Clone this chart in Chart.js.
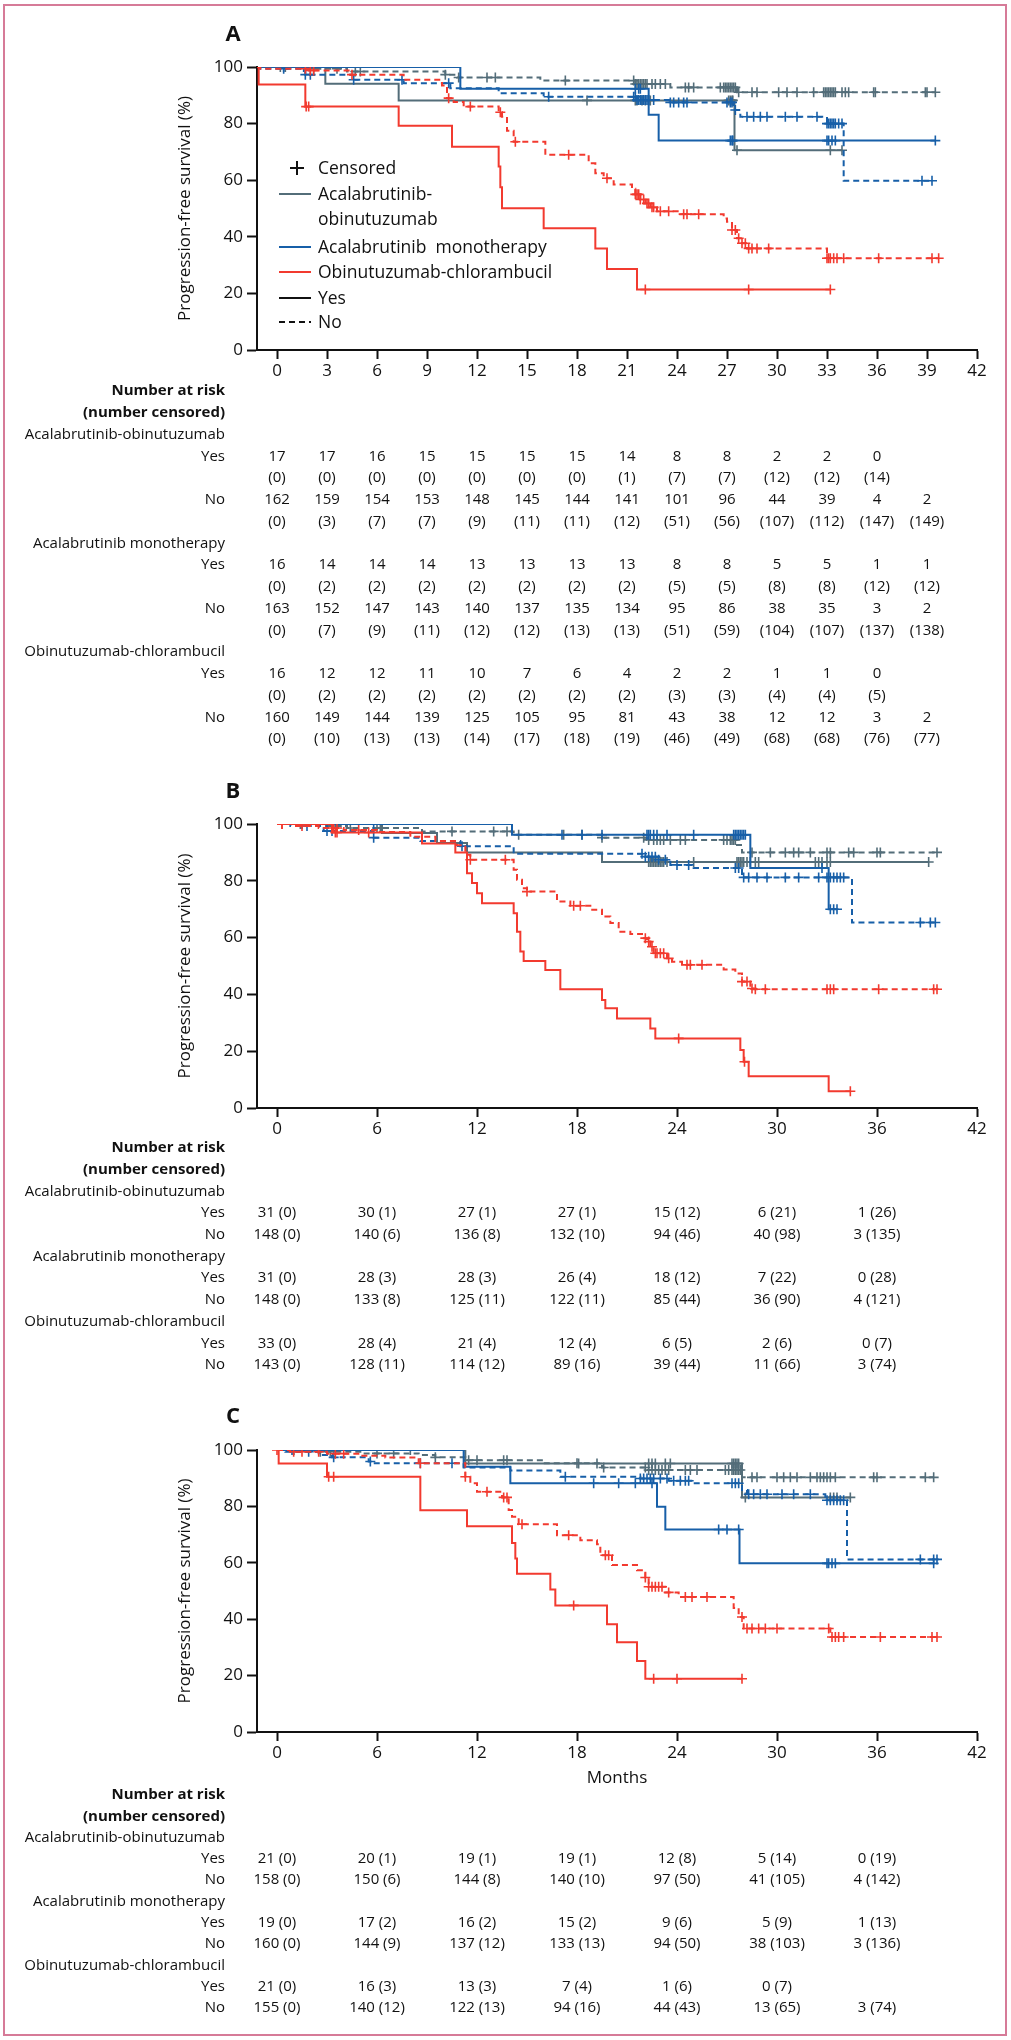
<!DOCTYPE html>
<html lang="en">
<head>
<meta charset="UTF-8">
<title>Progression-free survival by subgroup</title>
<script src="https://cdn.jsdelivr.net/npm/chart.js@4.4.1/dist/chart.umd.min.js"></script>
<style>
  html, body { margin: 0; padding: 0; background: #fff; }
  #page { position: relative; width: 1011px; height: 2040px; }
  #frame { position: absolute; left: 3px; top: 4px; width: 1004px; height: 2032px; border: 2px solid #d67b98; box-sizing: border-box; }
  canvas { position: absolute; left: 0; }
</style>
</head>
<body>
<div id="page">
  <div id="frame"></div>
  <canvas id="chartA" width="1011" height="770" style="top:0px"></canvas>
  <canvas id="chartB" width="1011" height="610" style="top:770px"></canvas>
  <canvas id="chartC" width="1011" height="660" style="top:1380px"></canvas>
</div>

<script>
  // ---- axes ----
  const yTicks = [0, 20, 40, 60, 80, 100];
  const xTicksA = [0, 3, 6, 9, 12, 15, 18, 21, 24, 27, 30, 33, 36, 39, 42];
  const xTicksBC = [0, 6, 12, 18, 24, 30, 36, 42];
  const riskTimesA = [0, 3, 6, 9, 12, 15, 18, 21, 24, 27, 30, 33, 36, 39];
  const riskTimesBC = [0, 6, 12, 18, 24, 30, 36];

  // ---- panel A curves: events [month, PFS %] and censor times ----
  const A_AO_yes = [[2.9, 94.1], [7.3, 88.2], [27.45, 70.6]];
  const A_AO_yes_cens = [18.6, 21.5, 21.6, 21.9, 22.1, 22.3, 22.4, 27.1, 27.2, 27.3, 27.35, 27.6, 33.2, 33.9];
  const A_AO_no = [[1.5, 99.4], [4.2, 98.4], [10.1, 97.3], [10.8, 96.3], [15.8, 95.2], [21.5, 94.0], [23.6, 92.8], [27.6, 91.1]];
  const A_AO_no_cens = [0.2, 0.5, 2.2, 3.6, 4.7, 5.0, 10.1, 10.9, 12.6, 13.1, 17.3, 21.4, 21.5, 21.6, 21.7, 21.8, 21.9, 22.0, 22.1, 22.2, 22.5, 22.7, 23.0, 23.3,
    24.5, 24.7, 25.0, 26.6, 26.8, 26.9, 27.0, 27.1, 27.2, 27.3, 27.4, 27.5, 27.7, 28.5, 28.8, 30.1, 30.6, 31.2, 32.2,
    32.8, 32.9, 33.0, 33.1, 33.2, 33.3, 33.4, 33.5, 33.9, 34.1, 34.3, 35.8, 35.9, 38.9, 39.0, 39.5];
  const A_AM_yes = [[11.0, 92.3], [22.3, 83.1], [22.9, 74.0]];
  const A_AM_yes_cens = [0.4, 1.6, 21.5, 21.7, 21.8, 27.2, 27.3, 27.35, 33.0, 33.1, 33.3, 33.5, 39.5];
  const A_AM_no = [[-1.0, 99.4], [1.7, 97.3], [4.6, 95.5], [7.6, 94.3], [10.4, 92.5], [13.3, 90.7], [16.0, 89.5], [21.6, 88.3], [23.6, 87.5], [27.4, 84.8], [27.8, 82.4], [33.0, 80.0], [34.0, 59.8]];
  const A_AM_no_cens = [0.4, 1.7, 2.0, 4.6, 7.5, 10.3, 16.3, 21.4, 21.5, 21.6, 21.7, 21.8, 21.9, 22.0, 22.1, 22.2, 22.3, 22.6, 23.6, 23.8, 24.1, 24.4, 24.6,
    27.0, 27.2, 27.3, 27.5, 28.2, 28.6, 29.0, 29.4, 30.5, 31.2, 32.4, 33.0, 33.1, 33.2, 33.3, 33.4, 33.5, 33.7, 33.9, 38.7, 39.3];
  const A_OC_yes = [[-1.1, 93.8], [1.7, 86.0], [7.3, 79.2], [10.5, 71.8], [13.3, 64.8], [13.4, 57.5], [13.5, 50.1], [16.0, 43.0], [19.1, 35.9], [19.8, 28.6], [21.6, 21.4]];
  const A_OC_yes_cens = [1.75, 1.9, 22.1, 28.3, 33.2];
  const A_OC_no = [[-1.0, 99.4], [1.9, 98.8], [4.4, 97.3], [7.6, 95.5], [9.9, 93.5], [10.2, 89.0], [10.6, 87.6], [11.2, 86.0], [13.3, 84.0], [13.5, 82.4], [13.8, 77.5], [14.2, 73.6],
    [16.1, 69.0], [18.7, 66.0], [19.1, 62.5], [19.6, 60.7], [20.2, 58.5], [21.3, 57.0], [21.5, 55.0], [21.8, 53.2], [22.1, 51.8], [22.4, 50.4], [22.8, 49.0],
    [24.2, 48.0], [26.8, 46.5], [27.0, 45.3], [27.3, 42.4], [27.6, 39.5], [27.9, 37.7], [28.2, 35.9], [33.0, 32.4]];
  const A_OC_no_cens = [1.7, 2.0, 2.2, 4.5, 10.3, 11.6, 13.4, 14.3, 17.5, 19.8, 21.5, 21.6, 21.7, 21.8, 22.0, 22.2, 22.3, 22.5, 22.6, 23.0, 23.5, 24.4, 24.6, 25.3,
    27.3, 27.5, 27.7, 27.9, 28.1, 28.3, 28.5, 28.8, 29.5, 33.0, 33.1, 33.2, 33.4, 33.6, 34.0, 36.1, 39.3, 39.7];

  // ---- panel B curves ----
  const B_AO_yes = [[6.3, 96.8], [9.6, 93.3], [11.4, 90.0], [19.5, 86.6]];
  const B_AO_yes_cens = [3.6, 22.3, 22.4, 22.5, 22.6, 22.7, 22.8, 22.9, 23.0, 23.1, 23.2, 23.4, 25.0, 27.6, 27.7, 27.8, 27.9, 28.0, 28.2, 28.4, 28.7, 28.9,
    32.3, 32.5, 32.7, 33.0, 33.2, 39.1];
  const B_AO_no = [[1.5, 99.3], [4.2, 98.6], [8.7, 97.4], [14.2, 96.2], [19.5, 95.2], [22.2, 94.4], [27.6, 92.6], [27.9, 90.0]];
  const B_AO_no_cens = [1.4, 3.6, 4.4, 6.0, 6.2, 10.5, 13.0, 13.8, 14.5, 17.2, 18.3, 19.5, 22.0, 22.3, 22.6, 22.8, 23.0, 23.2, 23.6, 24.2, 24.5,
    26.8, 27.0, 27.2, 27.3, 27.4, 27.5, 28.5, 29.6, 30.5, 31.0, 31.3, 32.0, 33.0, 33.2, 34.3, 34.6, 36.0, 36.2, 39.6];
  const B_AM_yes = [[14.1, 96.2], [28.4, 84.5], [33.1, 70.0]];
  const B_AM_yes_cens = [1.5, 3.0, 5.8, 17.1, 18.3, 19.5, 22.2, 22.3, 22.4, 22.6, 22.8, 23.4, 25.0, 27.4, 27.5, 27.6, 27.7, 27.8, 27.9, 28.0, 28.1,
    32.7, 33.2, 33.4, 33.6];
  const B_AM_no = [[0.8, 99.3], [2.8, 97.5], [5.8, 95.2], [8.6, 94.0], [11.0, 92.2], [14.2, 89.5], [22.0, 88.5], [22.9, 87.4], [23.6, 85.6], [25.0, 84.5], [27.9, 81.2], [34.5, 65.3]];
  const B_AM_no_cens = [1.8, 3.0, 3.3, 5.8, 11.1, 21.9, 22.1, 22.3, 22.5, 22.7, 22.9, 23.3, 24.0, 24.7, 27.5, 27.7, 28.0, 28.3, 28.8, 29.4, 30.5, 31.3,
    32.5, 33.0, 33.2, 33.4, 33.6, 33.8, 34.0, 38.6, 39.2, 39.5];
  const B_OC_yes = [[3.3, 97.0], [8.7, 93.1], [10.7, 90.0], [11.4, 82.7], [11.7, 79.2], [12.0, 75.6], [12.3, 72.1], [14.2, 68.6], [14.4, 62.1], [14.6, 55.1], [14.8, 51.8],
    [16.1, 48.6], [17.0, 41.8], [19.5, 38.0], [19.7, 35.1], [20.4, 31.5], [22.4, 28.0], [22.7, 24.5], [27.8, 20.4], [28.0, 16.3], [28.3, 11.2], [33.1, 5.9]];
  const B_OC_yes_cens = [0.3, 3.5, 3.6, 5.5, 24.1, 28.05, 34.4];
  const B_OC_no = [[1.0, 99.3], [2.5, 98.6], [4.0, 97.9], [6.0, 97.2], [8.0, 95.5], [9.5, 94.0], [10.8, 92.5], [11.3, 89.2], [11.6, 87.4], [14.2, 83.9], [14.4, 80.4],
    [14.7, 77.4], [15.0, 76.2], [16.8, 72.7], [17.6, 71.2], [18.8, 69.8], [19.5, 67.4], [20.0, 65.1], [20.5, 62.1], [21.2, 61.3], [21.9, 59.8], [22.2, 58.6],
    [22.4, 56.8], [22.6, 54.5], [23.4, 52.7], [23.7, 51.5], [24.3, 50.4], [26.8, 48.8], [27.5, 47.4], [27.9, 44.5], [28.4, 42.1], [28.6, 41.8]];
  const B_OC_no_cens = [0.3, 1.5, 3.4, 3.6, 4.9, 11.6, 13.7, 15.0, 17.8, 18.2, 22.1, 22.3, 22.5, 22.7, 22.8, 23.0, 23.2, 23.5, 24.6, 24.8, 25.5,
    27.9, 28.2, 28.5, 28.7, 29.3, 33.0, 33.2, 33.4, 36.1, 39.4, 39.6];

  // ---- panel C curves ----
  const C_AO_yes = [[11.3, 95.2], [27.9, 83.2]];
  const C_AO_yes_cens = [1.0, 8.0, 18.1, 19.2, 22.3, 22.5, 22.7, 23.3, 23.6, 27.3, 27.4, 27.5, 27.6, 27.7, 28.1, 33.2, 33.4, 33.6, 34.4];
  const C_AO_no = [[2.0, 99.4], [5.0, 98.8], [8.5, 98.2], [9.5, 97.4], [11.3, 96.4], [16.0, 95.3], [19.5, 93.8], [22.2, 92.9], [27.9, 90.3]];
  const C_AO_no_cens = [1.0, 2.6, 3.2, 6.0, 7.0, 9.5, 11.5, 12.0, 13.6, 13.8, 18.0, 19.6, 22.1, 22.3, 22.5, 22.7, 22.9, 23.1, 23.3, 23.5, 24.5, 24.8, 25.2,
    26.9, 27.1, 27.3, 27.4, 27.5, 27.6, 27.7, 27.8, 28.5, 28.8, 30.0, 30.4, 30.8, 31.2, 32.0, 32.4, 32.6, 32.8, 33.0, 33.2, 33.5, 35.8, 36.0, 38.9, 39.4];
  const C_AM_yes = [[11.2, 94.1], [14.0, 88.2], [22.8, 79.9], [23.3, 71.8], [27.75, 59.8]];
  const C_AM_yes_cens = [0.9, 3.0, 19.0, 20.5, 21.5, 22.5, 26.5, 27.0, 27.7, 33.0, 33.1, 33.3, 33.5, 39.4];
  const C_AM_no = [[0.5, 99.4], [2.5, 98.2], [3.3, 97.4], [5.5, 95.9], [5.8, 95.3], [11.2, 93.8], [14.0, 92.7], [17.0, 90.5], [21.8, 89.9], [23.5, 89.1], [25.0, 88.2],
    [27.9, 85.8], [28.2, 84.3], [32.9, 82.2], [34.2, 61.2]];
  const C_AM_no_cens = [1.9, 3.4, 5.6, 8.6, 10.5, 17.3, 21.8, 22.0, 22.2, 22.4, 22.6, 23.0, 23.4, 23.8, 24.2, 24.5, 24.7, 27.3, 27.5, 27.7, 28.3, 28.6, 29.0, 29.4,
    30.3, 31.0, 32.0, 33.0, 33.2, 33.4, 33.6, 33.8, 34.0, 38.6, 39.4, 39.6];
  const C_OC_yes = [[0.1, 95.2], [3.0, 90.5], [8.6, 78.6], [11.4, 73.0], [14.1, 67.0], [14.3, 61.5], [14.4, 56.1], [16.4, 50.5], [16.7, 44.9], [19.8, 38.2], [20.4, 31.8],
    [21.6, 25.2], [22.1, 18.9]];
  const C_OC_yes_cens = [3.1, 3.4, 17.8, 22.6, 24.0, 27.9];
  const C_OC_no = [[0.8, 99.4], [3.0, 98.7], [5.0, 98.0], [6.5, 97.3], [8.5, 95.3], [11.3, 90.5], [11.6, 88.2], [12.0, 85.2], [13.5, 83.2], [13.9, 78.7], [14.1, 76.3],
    [14.5, 73.7], [16.8, 69.8], [18.2, 68.0], [19.2, 66.6], [19.4, 62.7], [20.1, 59.2], [21.6, 57.4], [22.1, 54.8], [22.3, 51.5], [23.3, 49.5], [24.1, 47.9],
    [27.4, 44.0], [27.7, 40.8], [28.0, 36.7], [33.2, 33.7]];
  const C_OC_no_cens = [0.0, 1.0, 1.5, 2.5, 3.5, 4.0, 8.6, 11.3, 12.6, 13.6, 13.8, 14.7, 17.5, 19.7, 19.9, 22.1, 22.3, 22.5, 22.7, 22.9, 23.1, 23.5, 24.5, 24.9,
    25.8, 27.9, 28.2, 28.5, 28.9, 29.3, 30.0, 33.1, 33.3, 33.5, 33.7, 34.0, 36.2, 39.3, 39.6];

  // ---- number at risk (number censored) ----
  const riskA_AO_yes_n = [17, 17, 16, 15, 15, 15, 15, 14, 8, 8, 2, 2, 0];
  const riskA_AO_yes_c = [0, 0, 0, 0, 0, 0, 0, 1, 7, 7, 12, 12, 14];
  const riskA_AO_no_n = [162, 159, 154, 153, 148, 145, 144, 141, 101, 96, 44, 39, 4, 2];
  const riskA_AO_no_c = [0, 3, 7, 7, 9, 11, 11, 12, 51, 56, 107, 112, 147, 149];
  const riskA_AM_yes_n = [16, 14, 14, 14, 13, 13, 13, 13, 8, 8, 5, 5, 1, 1];
  const riskA_AM_yes_c = [0, 2, 2, 2, 2, 2, 2, 2, 5, 5, 8, 8, 12, 12];
  const riskA_AM_no_n = [163, 152, 147, 143, 140, 137, 135, 134, 95, 86, 38, 35, 3, 2];
  const riskA_AM_no_c = [0, 7, 9, 11, 12, 12, 13, 13, 51, 59, 104, 107, 137, 138];
  const riskA_OC_yes_n = [16, 12, 12, 11, 10, 7, 6, 4, 2, 2, 1, 1, 0];
  const riskA_OC_yes_c = [0, 2, 2, 2, 2, 2, 2, 2, 3, 3, 4, 4, 5];
  const riskA_OC_no_n = [160, 149, 144, 139, 125, 105, 95, 81, 43, 38, 12, 12, 3, 2];
  const riskA_OC_no_c = [0, 10, 13, 13, 14, 17, 18, 19, 46, 49, 68, 68, 76, 77];

  const riskB_AO_yes_n = [31, 30, 27, 27, 15, 6, 1];
  const riskB_AO_yes_c = [0, 1, 1, 1, 12, 21, 26];
  const riskB_AO_no_n = [148, 140, 136, 132, 94, 40, 3];
  const riskB_AO_no_c = [0, 6, 8, 10, 46, 98, 135];
  const riskB_AM_yes_n = [31, 28, 28, 26, 18, 7, 0];
  const riskB_AM_yes_c = [0, 3, 3, 4, 12, 22, 28];
  const riskB_AM_no_n = [148, 133, 125, 122, 85, 36, 4];
  const riskB_AM_no_c = [0, 8, 11, 11, 44, 90, 121];
  const riskB_OC_yes_n = [33, 28, 21, 12, 6, 2, 0];
  const riskB_OC_yes_c = [0, 4, 4, 4, 5, 6, 7];
  const riskB_OC_no_n = [143, 128, 114, 89, 39, 11, 3];
  const riskB_OC_no_c = [0, 11, 12, 16, 44, 66, 74];

  const riskC_AO_yes_n = [21, 20, 19, 19, 12, 5, 0];
  const riskC_AO_yes_c = [0, 1, 1, 1, 8, 14, 19];
  const riskC_AO_no_n = [158, 150, 144, 140, 97, 41, 4];
  const riskC_AO_no_c = [0, 6, 8, 10, 50, 105, 142];
  const riskC_AM_yes_n = [19, 17, 16, 15, 9, 5, 1];
  const riskC_AM_yes_c = [0, 2, 2, 2, 6, 9, 13];
  const riskC_AM_no_n = [160, 144, 137, 133, 94, 38, 3];
  const riskC_AM_no_c = [0, 9, 12, 13, 50, 103, 136];
  const riskC_OC_yes_n = [21, 16, 13, 7, 1, 0];
  const riskC_OC_yes_c = [0, 3, 3, 4, 6, 7];
  const riskC_OC_no_n = [155, 140, 122, 94, 44, 13, 3];
  const riskC_OC_no_c = [0, 12, 13, 16, 43, 65, 74];

  const armNames = ['Acalabrutinib-obinutuzumab', 'Acalabrutinib monotherapy', 'Obinutuzumab-chlorambucil'];

  // ---- styles ----
  const colAO = '#536d79', colAM = '#175fa8', colOC = '#f23a2f';
  const FONT = "'Open Sans', 'DejaVu Sans', sans-serif";
  Chart.defaults.font.family = FONT;
  Chart.defaults.font.size = 17;
  Chart.defaults.color = '#111';

  function survAt(ev, t) {
    let s = 100;
    ev.forEach(e => { if (e[0] <= t) s = e[1]; });
    return s;
  }

  function curveSets(ev, cens, color, dashed, start) {
    const end = Math.max(ev[ev.length - 1][0], ...cens);
    const pts = [{x: start, y: 100}].concat(ev.map(e => ({x: e[0], y: e[1]})));
    pts.push({x: end, y: survAt(ev, end)});
    return [
      { data: pts, borderColor: color, borderWidth: 2, borderDash: dashed ? [6, 4] : [],
        stepped: true, pointRadius: 0, fill: false },
      { data: cens.map(t => ({x: t, y: survAt(ev, t)})), showLine: false, pointStyle: 'cross',
        pointRadius: 5, pointBorderColor: color, borderColor: color, pointBorderWidth: 1.6 }
    ];
  }

  // table rows: A has separate lines for counts and censored, B/C combine them
  function rowsSplit(groups) {
    const rows = [{label: 'Number at risk', bold: true}, {label: '(number censored)', bold: true}];
    groups.forEach((g, i) => {
      rows.push({label: armNames[i]});
      rows.push({label: 'Yes', values: g[0]});
      rows.push({values: g[1].map(c => '(' + c + ')')});
      rows.push({label: 'No', values: g[2]});
      rows.push({values: g[3].map(c => '(' + c + ')')});
    });
    return rows;
  }
  function rowsJoined(groups) {
    const rows = [{label: 'Number at risk', bold: true}, {label: '(number censored)', bold: true}];
    groups.forEach((g, i) => {
      rows.push({label: armNames[i]});
      rows.push({label: 'Yes', values: g[0].map((n, j) => n + ' (' + g[1][j] + ')')});
      rows.push({label: 'No', values: g[2].map((n, j) => n + ' (' + g[3][j] + ')')});
    });
    return rows;
  }

  const legendItems = [
    {kind: 'cross', color: '#111', text: ['Censored'], y: 168},
    {kind: 'line', color: colAO, text: ['Acalabrutinib-', 'obinutuzumab'], y: 194},
    {kind: 'line', color: colAM, text: ['Acalabrutinib  monotherapy'], y: 247},
    {kind: 'line', color: colOC, text: ['Obinutuzumab-chlorambucil'], y: 272},
    {kind: 'line', color: '#111', text: ['Yes'], y: 298},
    {kind: 'dash', color: '#111', text: ['No'], y: 322}
  ];

  function drawExtras(chart, panel) {
    const ctx = chart.ctx, xs = chart.scales.x;
    ctx.save();
    ctx.fillStyle = '#111';
    ctx.textBaseline = 'middle';
    ctx.textAlign = 'center';
    ctx.font = 'bold 22px ' + FONT;
    ctx.fillText(panel.letter, 233, panel.letterY);

    panel.rows.forEach((r, i) => {
      const y = panel.rowY0 + i * panel.rowStep;
      if (r.label) {
        ctx.textAlign = 'right';
        ctx.font = (r.bold ? 'bold ' : '') + '15px ' + FONT;
        ctx.fillText(r.label, 225, y);
      }
      if (r.values) {
        ctx.textAlign = 'center';
        ctx.font = '15px ' + FONT;
        r.values.forEach((v, j) => ctx.fillText(String(v), xs.getPixelForValue(panel.riskTimes[j]), y));
      }
    });

    if (panel.legend) {
      ctx.textAlign = 'left';
      ctx.font = '17.5px ' + FONT;
      panel.legend.forEach(it => {
        ctx.strokeStyle = it.color;
        ctx.lineWidth = 2;
        ctx.beginPath();
        if (it.kind === 'cross') {
          ctx.moveTo(290, it.y); ctx.lineTo(304, it.y);
          ctx.moveTo(297, it.y - 7); ctx.lineTo(297, it.y + 7);
          ctx.setLineDash([]);
        } else {
          ctx.setLineDash(it.kind === 'dash' ? [6, 4] : []);
          ctx.moveTo(279, it.y); ctx.lineTo(311, it.y);
        }
        ctx.stroke();
        ctx.setLineDash([]);
        it.text.forEach((t, k) => ctx.fillText(t, 318, it.y + 1 + k * 25));
      });
    }
    ctx.restore();
  }

  function makeChart(id, panel) {
    const datasets = [];
    panel.curves.forEach(c => datasets.push(...curveSets(c[0], c[1], c[2], c[3], panel.start)));
    new Chart(document.getElementById(id), {
      type: 'line',
      data: { datasets },
      options: {
        responsive: false,
        animation: false,
        devicePixelRatio: 1,
        layout: { padding: { left: 165, right: 34, top: panel.padTop, bottom: 0 } },
        plugins: { legend: { display: false }, tooltip: { enabled: false } },
        scales: {
          x: {
            type: 'linear', min: -1.2, max: 42,
            afterBuildTicks: s => { s.ticks = panel.ticks.map(v => ({value: v})); },
            afterFit: s => { s.height = panel.xHeight; },
            grid: { drawOnChartArea: false, tickLength: 9, tickWidth: 2, tickColor: '#111' },
            border: { color: '#111', width: 2 },
            ticks: { padding: 2, autoSkip: false, maxRotation: 0, color: '#111', font: { size: 17 } },
            title: panel.xTitle
              ? { display: true, text: 'Months', color: '#111', font: { size: 17 }, padding: { top: 0, bottom: panel.xTitlePad } }
              : { display: false }
          },
          y: {
            type: 'linear', min: 0, max: 100,
            afterBuildTicks: s => { s.ticks = yTicks.map(v => ({value: v})); },
            afterFit: s => { s.width = 92; },
            grid: { drawOnChartArea: false, tickLength: 10, tickWidth: 2, tickColor: '#111' },
            border: { color: '#111', width: 2 },
            ticks: { padding: 4, color: '#111', font: { size: 17 } },
            title: { display: true, text: 'Progression-free survival (%)', color: '#111', font: { size: 17 }, padding: { top: 10, bottom: 0 } }
          }
        }
      },
      plugins: [{ id: 'extras', afterDraw: ch => drawExtras(ch, panel) }]
    });
  }

  makeChart('chartA', {
    letter: 'A', letterY: 35, padTop: 67, xHeight: 420, start: -1.2, ticks: xTicksA,
    riskTimes: riskTimesA, rowY0: 391, rowStep: 21.75, legend: legendItems,
    rows: rowsSplit([
      [riskA_AO_yes_n, riskA_AO_yes_c, riskA_AO_no_n, riskA_AO_no_c],
      [riskA_AM_yes_n, riskA_AM_yes_c, riskA_AM_no_n, riskA_AM_no_c],
      [riskA_OC_yes_n, riskA_OC_yes_c, riskA_OC_no_n, riskA_OC_no_c]
    ]),
    curves: [
      [A_OC_yes, A_OC_yes_cens, colOC, false], [A_OC_no, A_OC_no_cens, colOC, true],
      [A_AM_yes, A_AM_yes_cens, colAM, false], [A_AM_no, A_AM_no_cens, colAM, true],
      [A_AO_yes, A_AO_yes_cens, colAO, false], [A_AO_no, A_AO_no_cens, colAO, true]
    ]
  });

  makeChart('chartB', {
    letter: 'B', letterY: 22, padTop: 54, xHeight: 272, start: 0, ticks: xTicksBC,
    riskTimes: riskTimesBC, rowY0: 378, rowStep: 21.7,
    rows: rowsJoined([
      [riskB_AO_yes_n, riskB_AO_yes_c, riskB_AO_no_n, riskB_AO_no_c],
      [riskB_AM_yes_n, riskB_AM_yes_c, riskB_AM_no_n, riskB_AM_no_c],
      [riskB_OC_yes_n, riskB_OC_yes_c, riskB_OC_no_n, riskB_OC_no_c]
    ]),
    curves: [
      [B_OC_yes, B_OC_yes_cens, colOC, false], [B_OC_no, B_OC_no_cens, colOC, true],
      [B_AM_yes, B_AM_yes_cens, colAM, false], [B_AM_no, B_AM_no_cens, colAM, true],
      [B_AO_yes, B_AO_yes_cens, colAO, false], [B_AO_no, B_AO_no_cens, colAO, true]
    ]
  });

  makeChart('chartC', {
    letter: 'C', letterY: 37, padTop: 70, xHeight: 308, start: 0, ticks: xTicksBC,
    xTitle: true, xTitlePad: 252,
    riskTimes: riskTimesBC, rowY0: 415, rowStep: 21.3,
    rows: rowsJoined([
      [riskC_AO_yes_n, riskC_AO_yes_c, riskC_AO_no_n, riskC_AO_no_c],
      [riskC_AM_yes_n, riskC_AM_yes_c, riskC_AM_no_n, riskC_AM_no_c],
      [riskC_OC_yes_n, riskC_OC_yes_c, riskC_OC_no_n, riskC_OC_no_c]
    ]),
    curves: [
      [C_OC_yes, C_OC_yes_cens, colOC, false], [C_OC_no, C_OC_no_cens, colOC, true],
      [C_AM_yes, C_AM_yes_cens, colAM, false], [C_AM_no, C_AM_no_cens, colAM, true],
      [C_AO_yes, C_AO_yes_cens, colAO, false], [C_AO_no, C_AO_no_cens, colAO, true]
    ]
  });
</script>
</body>
</html>
